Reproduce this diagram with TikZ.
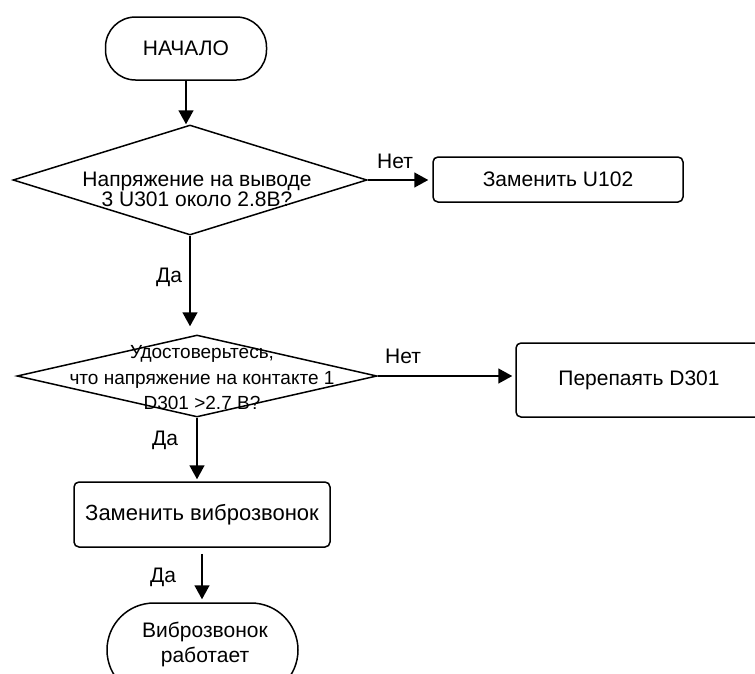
\documentclass[tikz,border=0pt]{standalone}
\usepackage{fontspec}
\setmainfont{Liberation Sans}
\usetikzlibrary{shapes.geometric,arrows.meta}
\begin{document}
\begin{tikzpicture}[x=1pt,y=-1pt,
  line width=1.5pt,
  txt/.style={font=\fontsize{21}{25}\selectfont, align=center, inner sep=0pt},
  terminal/.style={draw, rectangle, rounded corners=#1, inner sep=0pt, align=center,
    font=\fontsize{21}{25}\selectfont},
  procbox/.style={draw, rectangle, rounded corners=5pt, inner sep=0pt,
    font=\fontsize{21}{25}\selectfont},
  decision/.style={draw, diamond, inner sep=0pt},
  flow/.style={-{Triangle[length=14pt,width=15pt]}},
  lbl/.style={font=\fontsize{21}{25}\selectfont, inner sep=0pt}
]
\useasboundingbox (0,0) rectangle (755,673);
\clip (0,0) rectangle (755,673);

% blocks
\node[terminal=30pt, minimum width=161pt, minimum height=63pt] (start) at (186,48.5) {НАЧАЛО};

\node[decision, minimum width=354pt, minimum height=110pt] (d1) at (190,180) {};
\node[txt, font=\fontsize{21}{20}\selectfont] (d1text) at (197,189) {Напряжение на выводе\\3 U301 около 2.8B?};

\node[procbox, minimum width=250pt, minimum height=45pt] (fix1) at (558,179.5) {Заменить U102};

\node[decision, minimum width=360pt, minimum height=82pt] (d2) at (197,376) {};
\node[txt, font=\fontsize{19}{25.5}\selectfont] (d2text) at (202,378) {Удостоверьтесь,\\что напряжение на контакте 1\\D301 >2.7 В?};

\node[procbox, minimum width=246pt, minimum height=74pt] (fix2) at (639,380) {Перепаять D301};

\node[procbox, minimum width=256pt, minimum height=65pt, font=\fontsize{22}{25}\selectfont] (fix3) at (202,514.5) {Заменить виброзвонок};

\node[terminal=47pt, minimum width=191pt, minimum height=94pt] (done) at (202.5,650) {};
\node[txt] (donetext) at (205,644) {Виброзвонок\\работает};

% connectors
\draw[flow] (start) -- (start |- d1.north);
\draw[flow, shorten >=4pt] (d1.east) -- (d1.east -| fix1.west);
\draw[flow, shorten >=8pt] (d1.south) -- (d1.south |- d2.north);
\draw[flow, shorten >=3pt] (d2.east) -- (d2.east -| fix2.west);
\draw[flow, shorten >=2pt] (d2.south) -- (d2.south |- fix3.north);
\draw[flow, shorten <=6pt, shorten >=3pt] (fix3.south) -- (fix3.south |- done.north);

% branch labels
\node[lbl] (no1) at (395,161) {Нет};
\node[lbl] (no2) at (403,356) {Нет};
\node[lbl] (yes1) at (169,277) {Да};
\node[lbl] (yes2) at (165,440) {Да};
\node[lbl] (yes3) at (163,577) {Да};
\end{tikzpicture}
\end{document}
